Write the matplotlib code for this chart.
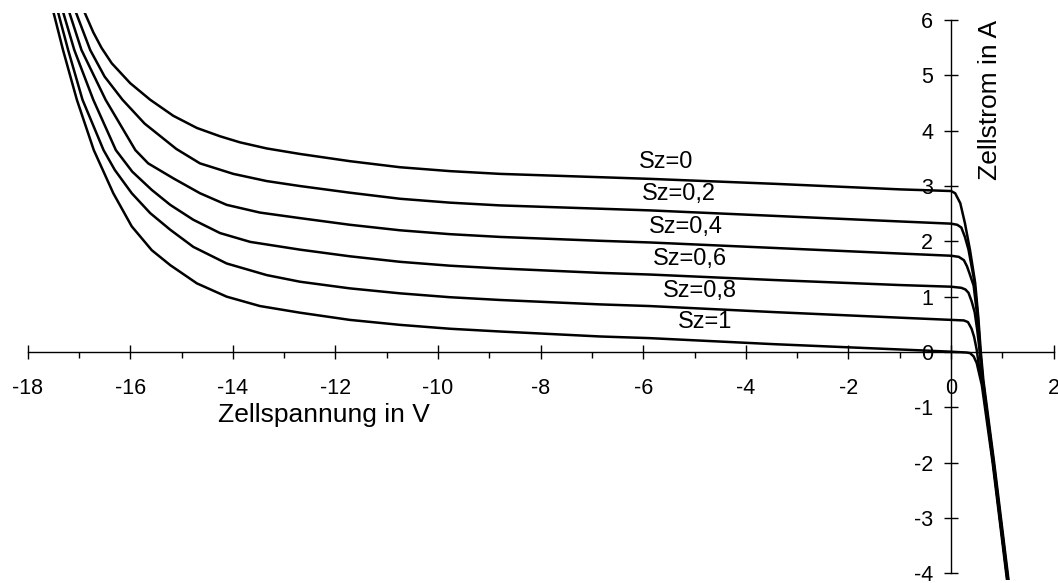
#!/usr/bin/env python3
# I-U-Kennlinien einer teilverschatteten Solarzelle (Sperr- und Durchlassbereich)

import matplotlib
matplotlib.use("Agg")
import matplotlib.pyplot as plt

plt.rcParams["font.family"] = ["Liberation Sans", "DejaVu Sans"]
plt.rcParams["axes.unicode_minus"] = False

# values (Spannung in V, Strom in A)
v_sz0 = [-16.88, -16.72, -16.56, -16.36, -16.00, -15.61, -15.16, -14.70, -14.25, -13.86,
         -13.34, -12.69, -11.72, -10.74, -9.77, -8.79, -6.84, -5.87, -3.43, -1.00,
         0.00, 0.08, 0.18, 0.27, 0.37, 0.47, 0.53, 0.58, 0.63, 0.84, 1.12]
i_sz0 = [6.12, 5.78, 5.50, 5.22, 4.86, 4.56, 4.27, 4.05, 3.90, 3.79,
         3.68, 3.58, 3.45, 3.34, 3.27, 3.22, 3.16, 3.13, 3.04, 2.94,
         2.91, 2.87, 2.69, 2.33, 1.84, 1.25, 0.64, 0.00, -0.51, -2.00, -4.12]

v_sz02 = [-17.05, -16.78, -16.50, -16.15, -15.72, -15.10, -14.64, -13.99, -13.34, -12.69,
          -11.72, -10.74, -9.77, -8.79, -6.84, -5.87, -3.43, -1.00,
          0.00, 0.12, 0.20, 0.27, 0.34, 0.45, 0.52, 0.57, 0.62, 0.83, 1.11]
i_sz02 = [6.12, 5.46, 4.98, 4.56, 4.13, 3.67, 3.41, 3.22, 3.09, 3.00,
          2.88, 2.77, 2.70, 2.65, 2.59, 2.56, 2.46, 2.36,
          2.32, 2.30, 2.25, 2.08, 1.85, 1.30, 0.66, 0.00, -0.51, -2.00, -4.12]

v_sz04 = [-17.18, -16.95, -16.48, -15.90, -15.65, -15.16, -14.64, -14.12, -13.47, -12.69,
          -11.72, -10.74, -9.77, -8.79, -6.84, -5.87, -3.43, -1.00,
          0.00, 0.15, 0.25, 0.31, 0.36, 0.44, 0.51, 0.565, 0.615, 0.825, 1.105]
i_sz04 = [6.12, 5.46, 4.56, 3.65, 3.41, 3.14, 2.87, 2.66, 2.52, 2.42,
          2.30, 2.20, 2.13, 2.08, 2.01, 1.98, 1.88, 1.78,
          1.74, 1.72, 1.66, 1.55, 1.42, 1.20, 0.66, 0.00, -0.51, -2.00, -4.12]

v_sz06 = [-17.30, -17.09, -16.72, -16.28, -15.96, -15.58, -15.22, -14.77, -14.25, -13.66,
          -12.69, -11.72, -10.74, -9.77, -8.79, -6.84, -5.87, -3.43, -1.00,
          0.00, 0.20, 0.28, 0.34, 0.40, 0.46, 0.51, 0.56, 0.61, 0.82, 1.10]
i_sz06 = [6.12, 5.46, 4.56, 3.65, 3.26, 2.93, 2.66, 2.39, 2.15, 1.99,
          1.85, 1.73, 1.63, 1.56, 1.51, 1.43, 1.40, 1.30, 1.21,
          1.18, 1.16, 1.13, 1.07, 0.92, 0.72, 0.40, 0.00, -0.51, -2.00, -4.12]

v_sz08 = [-17.40, -17.21, -16.93, -16.52, -16.30, -15.97, -15.61, -15.22, -14.77, -14.12,
          -13.34, -12.69, -11.72, -10.74, -9.77, -8.79, -6.84, -5.87, -3.43, -1.00,
          0.00, 0.25, 0.33, 0.40, 0.45, 0.50, 0.55, 0.61, 0.82, 1.10]
i_sz08 = [6.12, 5.46, 4.56, 3.65, 3.29, 2.87, 2.51, 2.21, 1.90, 1.60,
          1.39, 1.27, 1.15, 1.06, 0.99, 0.94, 0.86, 0.83, 0.72, 0.62,
          0.58, 0.57, 0.54, 0.42, 0.27, 0.04, -0.30, -0.55, -2.00, -4.12]

v_sz1 = [-17.49, -17.31, -17.04, -16.71, -16.33, -15.97, -15.58, -15.22, -14.70,
         -14.12, -13.47, -12.69, -11.72, -10.74, -9.77, -8.79, -6.84, -5.87, -3.43, -1.00,
         0.00, 0.30, 0.37, 0.44, 0.50, 0.55, 0.60, 0.81, 1.09]
i_sz1 = [6.12, 5.46, 4.56, 3.65, 2.87, 2.27, 1.84, 1.57, 1.24,
         1.00, 0.83, 0.71, 0.58, 0.49, 0.42, 0.37, 0.28, 0.25, 0.14, 0.045,
         0.005, -0.01, -0.02, -0.08, -0.20, -0.40, -0.60, -2.00, -4.12]

curves = [(v_sz0, i_sz0), (v_sz02, i_sz02), (v_sz04, i_sz04),
          (v_sz06, i_sz06), (v_sz08, i_sz08), (v_sz1, i_sz1)]
labels = ["Sz=0", "Sz=0,2", "Sz=0,4", "Sz=0,6", "Sz=0,8", "Sz=1"]
label_x = [-5.55, -5.30, -5.17, -5.08, -4.89, -4.80]
label_y = [3.43, 2.85, 2.26, 1.68, 1.10, 0.54]

x_ticks = list(range(-18, 3, 2))
x_minor = list(range(-17, 2, 2))
y_ticks = list(range(-4, 7))

fig = plt.figure(figsize=(10.58, 5.83), dpi=100)
ax = fig.add_axes([0.0261, 0.0045, 0.9698, 0.9733])

for (v, i) in curves:
    ax.plot(v, i, color="black", lw=1.8, solid_joinstyle="round")

for txt, x, y in zip(labels, label_x, label_y):
    ax.text(x, y, txt, fontsize=17, ha="center", va="center")

ax.set_xlim(-18, 2)
ax.set_ylim(-4.13, 6.13)

# Achsen durch den Ursprung
for s in ["top", "right"]:
    ax.spines[s].set_visible(False)
ax.spines["left"].set_position(("data", 0))
ax.spines["bottom"].set_position(("data", 0))
ax.spines["left"].set_bounds(-4, 6)
ax.spines["bottom"].set_bounds(-18, 2)
for s in ["left", "bottom"]:
    ax.spines[s].set_linewidth(1.0)

ax.set_xticks(x_ticks)
ax.set_xticks(x_minor, minor=True)
ax.set_xticklabels([str(t) for t in x_ticks])
ax.set_yticks(y_ticks)
ax.set_yticklabels([str(t) for t in y_ticks])
ax.tick_params(axis="x", which="major", direction="inout", length=10, width=1.0,
               labelsize=15.5, pad=14)
ax.tick_params(axis="x", which="minor", direction="out", length=4.3, width=1.0)
ax.tick_params(axis="y", which="major", direction="inout", length=10, width=1.0,
               labelsize=15.5, pad=8)

ax.text(-14.29, -1.14, "Zellspannung in V", fontsize=19, ha="left", va="center")
ax.text(0.76, 6.0, "Zellstrom in A", fontsize=19, rotation=90, ha="center", va="top")

fig.savefig("out.png", dpi=100)
